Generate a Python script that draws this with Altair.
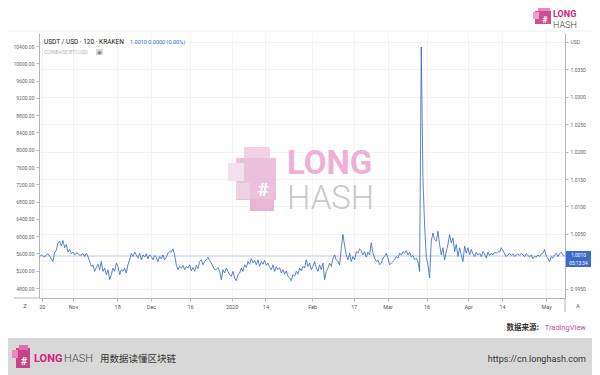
import altair as alt
import pandas as pd

# ---- USDT / USD (Kraken) price, Oct 2019 - May 2020 ----
usdt_oct_jan = [
    1.0009, 1.0012, 1.0010, 1.0008, 1.0012, 1.0014, 1.0010, 1.0005, 1.0000, 1.0017,
    1.0020, 1.0034, 1.0037, 1.0028, 1.0038, 1.0025, 1.0031, 1.0017, 1.0022, 1.0014,
    1.0017, 1.0012, 1.0015, 1.0015, 1.0011, 1.0012, 1.0014, 1.0009, 1.0015, 1.0009,
    1.0000, 0.9991, 0.9994, 0.9982, 0.9989, 0.9995, 0.9985, 1.0000, 0.9982, 0.9988,
    0.9976, 0.9985, 0.9967, 0.9976, 0.9988, 0.9982, 0.9997, 0.9991, 0.9976, 0.9985,
    0.9982, 0.9988, 0.9979, 0.9994, 1.0003, 1.0015, 1.0009, 1.0017, 1.0012, 1.0006,
    1.0015, 1.0003, 1.0012, 1.0008, 1.0014, 1.0005, 1.0012, 1.0009, 1.0003, 1.0011,
    1.0008, 1.0000, 1.0009, 1.0005, 1.0012, 1.0003, 1.0008, 1.0015, 1.0018, 1.0017,
    1.0023, 1.0012, 0.9994, 0.9985, 0.9991, 0.9988, 0.9993, 0.9985, 0.9991, 0.9988,
    0.9994, 0.9983, 0.9989, 0.9982, 0.9993, 0.9987, 1.0000, 1.0003, 0.9994, 1.0000,
    1.0003, 1.0008, 1.0002, 0.9997, 0.9991, 0.9985,
]
usdt_jan_mar = [
    0.9985, 0.9989, 0.9982, 0.9967, 0.9985, 0.9979, 0.9988, 0.9982, 0.9976, 0.9973,
    0.9982, 0.9970, 0.9965, 0.9976, 0.9979, 0.9988, 0.9982, 0.9994, 0.9989, 1.0000,
    0.9995, 1.0005, 0.9997, 1.0002, 0.9994, 1.0003, 0.9991, 1.0000, 0.9995, 1.0002,
    0.9993, 0.9997, 0.9989, 0.9985, 0.9994, 0.9982, 0.9991, 0.9985, 0.9989, 0.9979,
    0.9985, 0.9977, 0.9983, 0.9973, 0.9970, 0.9965, 0.9976, 0.9973, 0.9982, 0.9977,
    0.9988, 0.9983, 0.9991, 0.9988, 1.0003, 0.9991, 0.9997, 0.9985, 0.9991, 1.0000,
    0.9988, 0.9982, 0.9994, 0.9985, 0.9997, 0.9967, 0.9982, 0.9988, 0.9997, 0.9991,
    1.0006, 1.0012, 1.0003, 1.0000, 0.9994, 1.0025, 1.0049, 1.0028, 1.0012, 1.0003,
    1.0015, 1.0000, 1.0009, 1.0003, 1.0018, 1.0015, 1.0023, 1.0020, 1.0012, 1.0018,
    1.0008, 1.0017, 1.0012, 1.0034, 1.0015, 1.0006, 1.0000, 1.0003, 0.9994, 0.9997,
    1.0006, 1.0009, 1.0015, 1.0006, 0.9994, 0.9997,
]
usdt_mar_may = [
    1.0000, 1.0003, 1.0009, 1.0006, 1.0015, 1.0012, 1.0018, 1.0015, 1.0020, 1.0012,
    1.0017, 1.0008, 1.0011, 1.0003, 1.0006, 1.0000, 0.9982, 1.0390, 1.0150, 1.0066,
    1.0009, 0.9994, 0.9970, 1.0037, 1.0052, 1.0040, 1.0037, 1.0055, 1.0031, 1.0012,
    1.0025, 1.0003, 1.0018, 1.0031, 1.0049, 1.0034, 1.0043, 1.0018, 1.0031, 1.0009,
    1.0025, 1.0012, 1.0000, 1.0028, 1.0015, 1.0025, 1.0012, 1.0022, 1.0014, 1.0009,
    1.0017, 1.0012, 1.0015, 1.0009, 1.0018, 1.0014, 1.0006, 1.0017, 1.0011, 1.0015,
    1.0012, 1.0017, 1.0015, 1.0018, 1.0017, 1.0025, 1.0020, 1.0014, 1.0009, 1.0012,
    1.0015, 1.0011, 1.0014, 1.0009, 1.0012, 1.0014, 1.0011, 1.0015, 1.0012, 1.0009,
    1.0014, 1.0011, 1.0008, 1.0012, 1.0005, 1.0009, 1.0008, 1.0012, 1.0009, 1.0014,
    1.0015, 1.0022, 1.0009, 1.0006, 1.0000, 1.0009, 1.0006, 1.0012, 1.0015, 1.0009,
    1.0014, 1.0017, 1.0012, 1.0010,
]
usdt = usdt_oct_jan + usdt_jan_mar + usdt_mar_may

last_price = 1.0010

# x axis ticks and labels
x_tick_dates = [
    (2019, 10, 20), (2019, 11, 1), (2019, 11, 18), (2019, 12, 1), (2019, 12, 16),
    (2020, 1, 1), (2020, 1, 14), (2020, 2, 1), (2020, 2, 17), (2020, 3, 1),
    (2020, 3, 16), (2020, 4, 1), (2020, 4, 14), (2020, 5, 1),
]
x_tick_labels = ["20", "Nov", "18", "Dec", "16", "2020", "14", "Feb", "17", "Mar",
                 "16", "Apr", "14", "May"]

# right (USDT) scale ticks, left (BTC comparison) scale ticks
right_ticks = [0.995, 1.000, 1.005, 1.010, 1.015, 1.020, 1.025, 1.030, 1.035, 1.040]
left_ticks = [4800, 5200, 5600, 6000, 6400, 6800, 7200, 7600, 8000, 8400,
              8800, 9200, 9600, 10000, 10400]

# ---------------------------------------------------------------------------
times = pd.date_range("2019-10-19 04:00", periods=len(usdt), freq="923min")
df = pd.DataFrame({"t": times.strftime("%Y-%m-%dT%H:%M:%S"), "usdt": usdt})
df_left = pd.DataFrame({"v": left_ticks})

W, H = 526, 265
OX, OY = 39, 33  # page position of plot origin

x_domain = [alt.DateTime(year=2019, month=10, date=18, hours=22),
            alt.DateTime(year=2020, month=5, date=8, hours=5, minutes=30)]
right_domain = [0.99336, 1.04155]
left_domain = [4569, 10701]

label_expr = "''"
for (yy, mm, dd), lab in reversed(list(zip(x_tick_dates, x_tick_labels))):
    key = f"{yy:04d}-{mm:02d}-{dd:02d}"
    label_expr = f"timeFormat(datum.value, '%Y-%m-%d') == '{key}' ? '{lab}' : ({label_expr})"

AXC = "#b4b4b4"
GRID = "#eeeeee"
FONT = "Roboto"

x_enc = alt.X(
    "t:T",
    scale=alt.Scale(domain=x_domain),
    axis=alt.Axis(
        values=[alt.DateTime(year=a, month=b, date=c) for a, b, c in x_tick_dates],
        labelExpr=label_expr, title=None, grid=True, gridColor=GRID, gridWidth=0.7,
        domainColor=AXC, tickColor=AXC, tickSize=3, labelFontSize=5.5,
        labelColor="#555555", labelPadding=3, labelFont=FONT, labelOverlap=False,
    ),
)

line = alt.Chart(df).mark_line(color="#3b6cc8", strokeWidth=0.85).encode(
    x=x_enc,
    y=alt.Y(
        "usdt:Q",
        scale=alt.Scale(domain=right_domain, nice=False, zero=False),
        axis=alt.Axis(
            orient="right", values=right_ticks, title=None,
            labelExpr="datum.value > 1.0399 ? 'USD' : format(datum.value, '.4f')",
            grid=True, gridColor=GRID, gridWidth=0.7, domainColor=AXC, tickColor=AXC,
            tickSize=3, labelFontSize=5, labelColor="#666666", labelPadding=2,
            labelFont=FONT,
        ),
    ),
)

price_line = alt.Chart(pd.DataFrame({"p": [last_price]})).mark_rule(
    color="#a9bde0", strokeWidth=0.8
).encode(
    y=alt.Y("p:Q", scale=alt.Scale(domain=right_domain, nice=False, zero=False), axis=None)
)

left_axis = alt.Chart(df_left).mark_point(opacity=0).encode(
    x=alt.value(0),
    y=alt.Y(
        "v:Q",
        scale=alt.Scale(domain=left_domain, nice=False, zero=False),
        axis=alt.Axis(
            orient="left", values=left_ticks, title=None, grid=False,
            labelExpr="format(datum.value, '.2f')", domainColor=AXC, tickColor=AXC,
            tickSize=3, labelFontSize=5, labelColor="#666666", labelPadding=2,
            labelFont=FONT,
        ),
    ),
)

one = pd.DataFrame({"k": [0]})


def rect(x1, y1, x2, y2, color, opacity=1.0):
    return alt.Chart(one).mark_rect(color=color, opacity=opacity).encode(
        x=alt.value(x1 - OX), x2=alt.value(x2 - OX),
        y=alt.value(y1 - OY), y2=alt.value(y2 - OY),
    )


def rule(x1, y1, x2, y2, color, width=1.0):
    return alt.Chart(one).mark_rule(color=color, strokeWidth=width).encode(
        x=alt.value(x1 - OX), x2=alt.value(x2 - OX),
        y=alt.value(y1 - OY), y2=alt.value(y2 - OY),
    )


def txt(x, y, s, size, color, weight="normal", align="left", font=FONT, opacity=1.0,
        baseline="alphabetic"):
    return alt.Chart(one).mark_text(
        text=s, fontSize=size, color=color, fontWeight=weight, align=align,
        font=font, opacity=opacity, baseline=baseline,
    ).encode(x=alt.value(x - OX), y=alt.value(y - OY))


CJK = "Noto Sans CJK SC"
PINK = "#d2237a"

deco = [
    # faint top separator
    rule(8, 31, 592, 31, "#ececec", 0.8),
    # centre watermark
    rect(244, 147, 270, 160, "#f1d2e5"),
    rect(236, 158, 276, 200, "#eac0db"),
    rect(228, 163, 244, 181, "#f4dfec"),
    rect(250, 199, 274, 211, "#e6b6d4"),
    rect(236, 183, 250, 199, "#f0d0e3"),
    txt(263, 196, "#", 19, "#ffffff", weight="bold", align="center"),
    txt(287, 174, "LONG", 33, "#eeb0d4", weight="bold"),
    txt(287, 208.5, "HASH", 33, "#c9c9c9", weight=300),
    # header texts
    txt(44, 44, "USDT / USD · 120 · KRAKEN", 6.5, "#222222"),
    txt(130, 44, "1.0010  0.0000 (0.00%)", 5.5, "#3b6cc8"),
    txt(44, 54, "COINBASE:BTCUSD", 5, "#b5b8c0"),
    rect(96, 49, 103, 55, "#d9d9d9"),
    txt(99.5, 54, "◉", 5, "#777777", align="center", font="DejaVu Sans"),
    # axis corner buttons
    txt(25, 308, "Z", 6, "#666666", align="center"),
    txt(578, 308, "A", 6, "#666666", align="center"),
    rule(14, 298, 39, 298, AXC, 1),
    rule(565, 298, 565, 312, AXC, 1),
    # last price tag
    rect(566, 251, 591, 267, "#3b6cc8"),
    txt(578.5, 257.3, "1.0010", 4.8, "#ffffff", align="center"),
    txt(578.5, 265.3, "05:13:34", 4.8, "#ffffff", align="center"),
    # top-right logo
    rect(538, 6, 550, 12, "#e58ab9"),
    rect(535, 11, 551, 24, "#cf4d90"),
    rect(533, 12, 539, 19, "#ee9fc9"),
    txt(545, 23, "#", 9, "#ffffff", weight="bold", align="center"),
    txt(553, 17, "LONG", 9, PINK, weight="bold"),
    txt(553, 28, "HASH", 9, "#444444", weight=300),
    # source note
    txt(539, 330, "数据来源:", 7.5, "#333333", weight="bold", font=CJK, align="right"),
    txt(586, 330, "TradingView", 7.5, "#c0509a", align="right"),
    # footer band
    rect(8, 338, 592, 375, "#d8d8d8"),
    rect(16, 348, 30, 368, "#c8428a"),
    rect(12, 350, 18, 358, "#e58ab9"),
    rect(19, 345, 28, 350, "#dd6fa8"),
    txt(24, 365, "#", 11, "#ffffff", weight="bold", align="center"),
    txt(34, 362, "LONG", 11, PINK, weight="bold"),
    txt(64, 362, "HASH", 11, "#444444", weight=300),
    txt(100, 362, "用数据读懂区块链", 9.5, "#333333", font=CJK),
    txt(586, 362, "https://cn.longhash.com", 9, "#333333", align="right"),
]

PAD_L = OX - 8
PAD_T = OY - 8
PAD_R = 592 - OX - W   # svg ends at page x = 592
PAD_B = 375 - OY - H

chart = alt.layer(left_axis, *deco, price_line, line).resolve_scale(
    y="independent"
).properties(
    width=W, height=H,
    padding={"left": PAD_L, "top": PAD_T, "right": PAD_R, "bottom": PAD_B},
    autosize=alt.AutoSizeParams(type="none"),
    background="white",
).configure_view(stroke=None)

chart.save("out.html", embed_options={"renderer": "svg", "actions": False})
